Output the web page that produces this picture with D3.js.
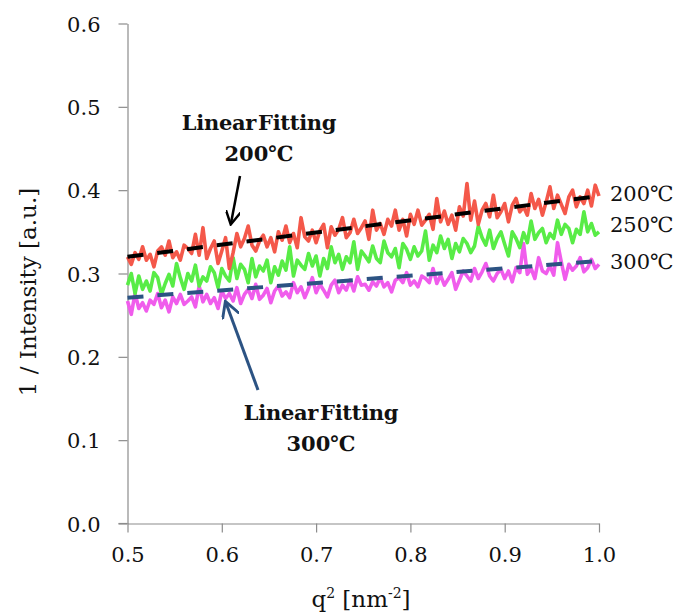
<!DOCTYPE html>
<html>
<head>
<meta charset="utf-8">
<script src="https://cdn.jsdelivr.net/npm/d3@7"></script>
<style>
  html, body { margin: 0; padding: 0; background: #fff; }
  svg { display: block; }
  text { font-family: "DejaVu Serif", "Liberation Serif", serif; fill: #111; }
</style>
</head>
<body>
<svg id="chart" width="680" height="615"></svg>
<script>
// q^2 sample grid (nm^-2), 0.5 to 1.0 in steps of 0.004
const qSquared = d3.range(0, 126).map(i => +(0.5 + i * 0.004).toFixed(3));

// 1 / Intensity for each anneal temperature
const inv200 = [
  0.320, 0.311, 0.325, 0.317, 0.332, 0.316, 0.323, 0.308, 0.327, 0.332,
  0.322, 0.339, 0.319, 0.326, 0.316, 0.334, 0.330, 0.324, 0.347, 0.322,
  0.355, 0.318, 0.330, 0.339, 0.312, 0.327, 0.343, 0.306, 0.325, 0.348,
  0.332, 0.342, 0.357, 0.334, 0.327, 0.339, 0.346, 0.332, 0.343, 0.326,
  0.350, 0.340, 0.357, 0.337, 0.348, 0.331, 0.367, 0.344, 0.339, 0.352,
  0.337, 0.351, 0.359, 0.331, 0.356, 0.346, 0.353, 0.367, 0.343, 0.349,
  0.365, 0.348, 0.355, 0.363, 0.341, 0.376, 0.352, 0.360, 0.347, 0.365,
  0.357, 0.376, 0.352, 0.365, 0.345, 0.371, 0.359, 0.376, 0.358, 0.364,
  0.371, 0.353, 0.390, 0.362, 0.375, 0.359, 0.370, 0.352, 0.380, 0.369,
  0.408, 0.364, 0.387, 0.359, 0.376, 0.384, 0.368, 0.394, 0.367, 0.374,
  0.384, 0.362, 0.382, 0.390, 0.374, 0.380, 0.370, 0.396, 0.378, 0.389,
  0.370, 0.386, 0.404, 0.378, 0.394, 0.383, 0.372, 0.392, 0.400, 0.380,
  0.392, 0.384, 0.400, 0.381, 0.406, 0.393
];
const inv250 = [
  0.286, 0.300, 0.276, 0.297, 0.281, 0.291, 0.279, 0.301, 0.295, 0.275,
  0.288, 0.299, 0.285, 0.312, 0.295, 0.281, 0.300, 0.291, 0.310, 0.285,
  0.296, 0.291, 0.308, 0.301, 0.283, 0.306, 0.297, 0.291, 0.319, 0.294,
  0.311, 0.305, 0.289, 0.318, 0.296, 0.309, 0.303, 0.316, 0.289, 0.308,
  0.298, 0.315, 0.304, 0.332, 0.297, 0.316, 0.310, 0.305, 0.324, 0.309,
  0.321, 0.297, 0.318, 0.306, 0.332, 0.313, 0.323, 0.305, 0.320, 0.313,
  0.338, 0.305, 0.327, 0.321, 0.314, 0.333, 0.318, 0.313, 0.339, 0.325,
  0.320, 0.330, 0.307, 0.336, 0.329, 0.317, 0.332, 0.321, 0.327, 0.351,
  0.316, 0.334, 0.325, 0.345, 0.330, 0.341, 0.318, 0.336, 0.326, 0.342,
  0.336, 0.325, 0.333, 0.357, 0.343, 0.334, 0.352, 0.330, 0.342, 0.350,
  0.335, 0.321, 0.350, 0.342, 0.331, 0.349, 0.337, 0.363, 0.341, 0.349,
  0.354, 0.337, 0.348, 0.342, 0.364, 0.347, 0.359, 0.354, 0.337, 0.353,
  0.347, 0.374, 0.350, 0.360, 0.346, 0.350
];
const inv300 = [
  0.267, 0.251, 0.276, 0.258, 0.265, 0.255, 0.268, 0.263, 0.276, 0.259,
  0.268, 0.254, 0.272, 0.264, 0.275, 0.263, 0.267, 0.272, 0.260, 0.285,
  0.266, 0.275, 0.264, 0.271, 0.258, 0.279, 0.270, 0.276, 0.267, 0.283,
  0.264, 0.275, 0.281, 0.270, 0.287, 0.269, 0.274, 0.282, 0.265, 0.279,
  0.285, 0.273, 0.278, 0.271, 0.289, 0.277, 0.284, 0.271, 0.282, 0.295,
  0.277, 0.287, 0.280, 0.272, 0.286, 0.292, 0.277, 0.286, 0.280, 0.292,
  0.279, 0.296, 0.286, 0.287, 0.280, 0.290, 0.285, 0.295, 0.284, 0.289,
  0.278, 0.292, 0.295, 0.289, 0.301, 0.286, 0.291, 0.284, 0.297, 0.294,
  0.289, 0.306, 0.288, 0.298, 0.286, 0.293, 0.301, 0.281, 0.292, 0.303,
  0.297, 0.291, 0.306, 0.294, 0.302, 0.312, 0.297, 0.291, 0.300, 0.305,
  0.294, 0.303, 0.290, 0.307, 0.301, 0.336, 0.299, 0.306, 0.294, 0.319,
  0.303, 0.300, 0.309, 0.298, 0.337, 0.314, 0.293, 0.311, 0.304, 0.309,
  0.319, 0.302, 0.307, 0.317, 0.306, 0.311
];

// Linear fits (end points at q^2 = 0.5 and 1.0)
const fitQ = [0.5, 1.0];
const fit200 = [0.320, 0.393];
const fit300 = [0.271, 0.315];

const xTicks = [0.5, 0.6, 0.7, 0.8, 0.9, 1.0];
const yTicks = [0.0, 0.1, 0.2, 0.3, 0.4, 0.5, 0.6];
const seriesNames = ["200℃", "250℃", "300℃"];

const svg = d3.select("#chart");
const margin = { left: 127.5, right: 81, top: 23.5, bottom: 91.5 };
const W = 680, H = 615;

const x = d3.scaleLinear().domain([0.5, 1.0]).range([margin.left, W - margin.right]);
const y = d3.scaleLinear().domain([0, 0.6]).range([H - margin.bottom, margin.top]);

// axes
const axisColor = "#8c8c8c";
const xAxis = svg.append("g")
  .attr("transform", `translate(0,${y(0)})`)
  .call(d3.axisBottom(x).tickValues(xTicks).tickSize(9).tickSizeOuter(0).tickFormat(d3.format(".1f")));
const yAxis = svg.append("g")
  .attr("transform", `translate(${x(0.5)},0)`)
  .call(d3.axisLeft(y).tickValues(yTicks).tickSize(9).tickSizeOuter(0).tickFormat(d3.format(".1f")));

[xAxis, yAxis].forEach(g => {
  g.select(".domain").attr("stroke", axisColor).attr("stroke-width", 1.2);
  g.selectAll(".tick line").attr("stroke", axisColor).attr("stroke-width", 1.2);
  g.selectAll(".tick text")
    .style("font-family", '"DejaVu Serif", serif')
    .style("font-size", "21px")
    .attr("fill", "#111");
});
xAxis.selectAll(".tick text").attr("dy", "1.25em");
yAxis.selectAll(".tick text").attr("x", -27).attr("dy", "0.36em");
// x-axis line runs a little past the y-axis
xAxis.append("line")
  .attr("x1", x(0.5) - 9).attr("x2", x(0.5))
  .attr("stroke", axisColor).attr("stroke-width", 1.2);

// data lines
const line = d3.line().x(d => x(d[0])).y(d => y(d[1]));
const seriesData = [
  { values: inv300, color: "#f05cec" },
  { values: inv250, color: "#58ec46" },
  { values: inv200, color: "#f4584a" }
];
seriesData.forEach(s => {
  svg.append("path")
    .datum(qSquared.map((q, i) => [q, s.values[i]]))
    .attr("d", line)
    .attr("fill", "none")
    .attr("stroke", s.color)
    .attr("stroke-width", 3.6)
    .attr("stroke-linejoin", "round");
});

// fitted lines
[{ v: fit200, c: "#000" }, { v: fit300, c: "#2c5383" }].forEach(f => {
  svg.append("path")
    .datum(fitQ.map((q, i) => [q, f.v[i]]))
    .attr("d", line)
    .attr("fill", "none")
    .attr("stroke", f.c)
    .attr("stroke-width", 4)
    .attr("stroke-dasharray", "16,14");
});

// series labels at the right end
const labelY = [193, 224, 261];
seriesNames.forEach((n, i) => {
  svg.append("text")
    .attr("x", 610).attr("y", labelY[i])
    .attr("dy", "0.36em")
    .style("font-size", "21px")
    .text(n);
});

// axis titles
svg.append("text")
  .attr("x", 361).attr("y", 607)
  .attr("text-anchor", "middle")
  .style("font-size", "23px")
  .html('q<tspan dy="-9" font-size="14">2</tspan><tspan dy="9"> [nm</tspan><tspan dy="-9" font-size="14">-2</tspan><tspan dy="9">]</tspan>');

svg.append("text")
  .attr("transform", "translate(36,292) rotate(-90)")
  .attr("text-anchor", "middle")
  .style("font-size", "23px")
  .text("1 / Intensity [a.u.]");

// annotations
function annotate(cx, y1, label2) {
  svg.append("text").attr("x", cx).attr("y", y1)
    .attr("text-anchor", "middle").style("font-size", "21px").style("font-weight", "bold")
    .style("letter-spacing", "-0.3px").style("word-spacing", "-5px")
    .text("Linear Fitting");
  svg.append("text").attr("x", cx).attr("y", y1 + 31)
    .attr("text-anchor", "middle").style("font-size", "21px").style("font-weight", "bold")
    .text(label2);
}
annotate(259, 130, "200℃");
annotate(321, 420, "300℃");

const defs = svg.append("defs");
function marker(id, color) {
  defs.append("marker").attr("id", id)
    .attr("viewBox", "0 0 10 10").attr("refX", 8).attr("refY", 5)
    .attr("markerWidth", 6).attr("markerHeight", 6).attr("orient", "auto")
    .append("path").attr("d", "M0,0 L9,5 L0,10").attr("fill", "none")
    .attr("stroke", color).attr("stroke-width", 1.6);
}
marker("arrBlack", "#000");
marker("arrBlue", "#2c5383");

svg.append("line")
  .attr("x1", 240).attr("y1", 176).attr("x2", 231).attr("y2", 223)
  .attr("stroke", "#000").attr("stroke-width", 2.5)
  .attr("marker-end", "url(#arrBlack)");
svg.append("line")
  .attr("x1", 258).attr("y1", 390).attr("x2", 226).attr("y2", 303)
  .attr("stroke", "#2c5383").attr("stroke-width", 3)
  .attr("marker-end", "url(#arrBlue)");
</script>
</body>
</html>
